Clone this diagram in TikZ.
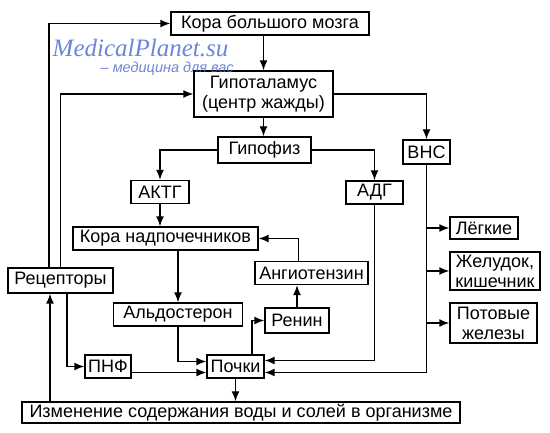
\documentclass[tikz,border=0pt]{standalone}
\usepackage{fontspec}
\setmainfont{Liberation Sans}
\newfontfamily\wmserif{Liberation Serif}
\usetikzlibrary{arrows.meta}
\definecolor{wmblue}{RGB}{72,104,205}

\begin{document}
\begin{tikzpicture}[
    x=1pt, y=-1pt,
    >={Latex[length=10pt,width=8pt]},
    line width=1.4pt,
    font=\fontsize{18}{20}\selectfont,
    block/.style={
        rectangle,
        draw=black,
        line width=1.4pt,
        text centered,
        inner xsep=2pt,
        inner ysep=1pt,
        minimum height=23pt
    },
    twoline/.style={
        block,
        align=center
    },
    wmark/.style={
        text=wmblue,
        opacity=0.8,
        inner sep=0pt
    }
  ]

\path[use as bounding box, fill=white] (0,0) rectangle (550,433);

% // central chain
\node [block, minimum width=198pt] (cortex) at (270,23.5) {Кора большого мозга};
\node [twoline, minimum width=139pt, minimum height=46pt] (hypo) at (263.5,94) {Гипоталамус\\(центр жажды)};
\node [block, minimum width=93pt, minimum height=26pt] (pit) at (264.5,150) {Гипофиз};
\node [block, minimum width=58pt] (aktg) at (160,192) {АКТГ};
\node [block, minimum width=57pt] (adg) at (374.5,192.5) {АДГ};
\node [block, minimum width=185pt] (adrenal) at (165.5,238.5) {Кора надпочечников};
\node [block, minimum width=113pt] (angio) at (311.5,273) {Ангиотензин};
\node [block, minimum width=129pt] (aldo) at (178,314.5) {Альдостерон};
\node [block, minimum width=64pt, minimum height=25pt] (renin) at (297,320.5) {Ренин};
\node [block, minimum width=57pt] (kidney) at (235.5,366.5) {Почки};
\node [block, minimum width=46pt] (pnf) at (108,366.5) {ПНФ};
\node [block, minimum width=105pt, minimum height=25pt] (recept) at (60.5,280.5) {Рецепторы};
\node [block, minimum width=438pt, minimum height=21pt] (change) at (241,412.5) {Изменение содержания воды и солей в организме};

% // autonomic branch
\node [block, minimum width=47pt, minimum height=24pt] (vns) at (426.5,152) {ВНС};
\node [block, minimum width=68pt, minimum height=22pt] (lungs) at (484,228) {Лёгкие};
\node [twoline, minimum width=90pt, minimum height=38pt] (gut) at (495,271) {Желудок,\\кишечник};
\node [twoline, minimum width=87pt, minimum height=40pt] (sweat) at (493.5,323) {Потовые\\железы};

% // watermark
\node [wmark, font=\wmserif\itshape\fontsize{25}{25}\selectfont, anchor=base west] (wm1) at (52,57) {MedicalPlanet.su};
\node [wmark, font=\itshape\fontsize{14.5}{14.5}\selectfont, anchor=base west] (wm2) at (100,73) {– медицина для вас};

% // arrows
\draw [->] (hypo.north |- cortex.south) -- (hypo.north);
\draw [->] (hypo.south) -- (hypo.south |- pit.north);
\draw [->] (hypo.east) -| (vns.north);
\draw [->] (pit.west) -| (aktg.north);
\draw [->] (pit.east) -| (adg.north);
\draw [->] (aktg.south) -- (aktg.south |- adrenal.north);
\draw [->] ([xshift=-13pt]angio.north) |- (adrenal.east);
\draw [->] (aldo.north |- adrenal.south) -- (aldo.north);
\draw [->] (aldo.south) |- ([yshift=5pt]kidney.west);
\draw [->] (renin.north) -- (renin.north |- angio.south);
\draw [->] ([xshift=16.5pt]kidney.north) |- (renin.west);
\draw [->] ([xshift=6.5pt]recept.south) |- (pnf.west);
\draw [->] ([yshift=-6pt]pnf.east) -- ([yshift=-6pt]kidney.west);
\draw [->] (adg.south) |- ([yshift=6pt]kidney.east);
\draw [->] (vns.south) |- ([yshift=-6pt]kidney.east);
\draw [->] (vns.south) |- (lungs.west);
\draw [->] (vns.south) |- (gut.west);
\draw [->] (vns.south) |- (sweat.west);
\draw [->] (kidney.south) -- (kidney.south |- change.north);
\draw [->] ([xshift=-10.5pt]recept.south |- change.north) -- ([xshift=-10.5pt]recept.south);
\draw [->] ([xshift=-11.5pt]recept.north) |- (cortex.west);
\draw [->] (recept.north) |- (hypo.west);

\end{tikzpicture}
\end{document}
